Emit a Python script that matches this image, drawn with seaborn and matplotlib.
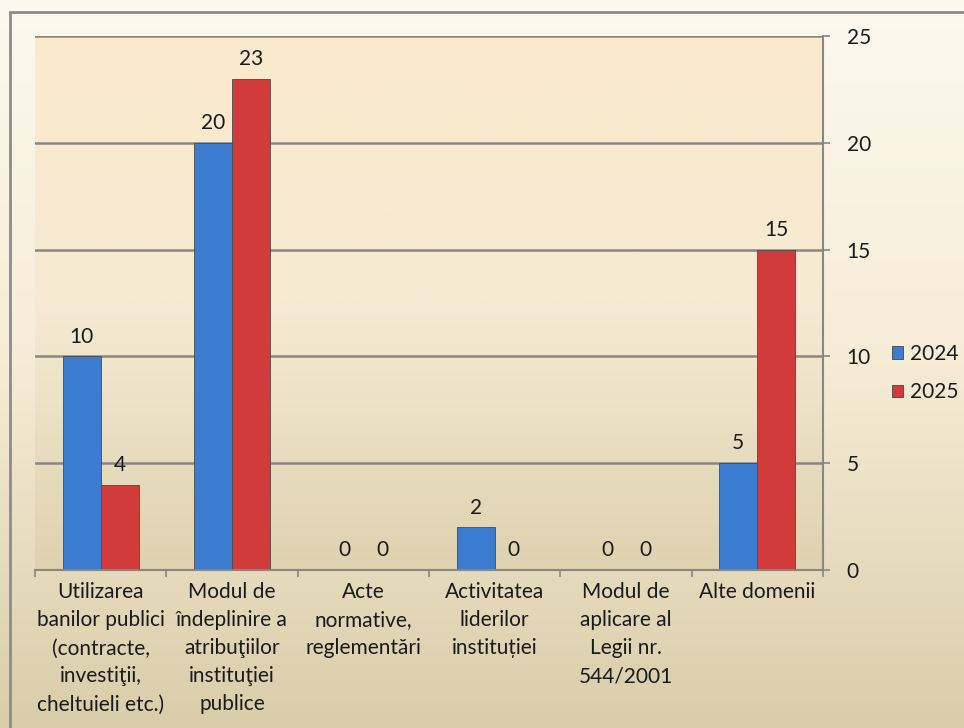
import numpy as np
import pandas as pd
import matplotlib
matplotlib.use("Agg")
import matplotlib.pyplot as plt
import seaborn as sns
from matplotlib.patches import Rectangle
from matplotlib.colors import LinearSegmentedColormap

# Data
categories = [
    "Utilizarea\nbanilor publici\n(contracte,\ninvestiţii,\ncheltuieli etc.)",
    "Modul de\nîndeplinire a\natribuţiilor\ninstituţiei\npublice",
    "Acte\nnormative,\nreglementări",
    "Activitatea\nliderilor\ninstituției",
    "Modul de\naplicare al\nLegii nr.\n544/2001",
    "Alte domenii",
]
values_2024 = [10, 20, 0, 2, 0, 5]
values_2025 = [4, 23, 0, 0, 0, 15]
years = ["2024", "2025"]

df = pd.DataFrame({
    "cat": categories * 2,
    "year": [years[0]] * 6 + [years[1]] * 6,
    "val": values_2024 + values_2025,
})

sns.set_style("white")
plt.rcParams["font.family"] = ["Lato", "DejaVu Sans"]
txt = "#1a1a1a"
grid_c = "#8a8780"
fs = 15

fig = plt.figure(figsize=(9.64, 7.28), dpi=100)

# figure background gradient
bg = fig.add_axes([0, 0, 1, 1], zorder=-10)
cm_fig = LinearSegmentedColormap.from_list("fig", ["#fdf9ef", "#f6ecd6", "#d9cda9"])
bg.imshow(np.linspace(0, 1, 256).reshape(-1, 1), cmap=cm_fig, aspect="auto",
          extent=[0, 1, 0, 1])
bg.set_axis_off()
fig.patches.append(Rectangle((10 / 964, -0.01), 1.0, 1 - 12 / 728 + 0.01,
                             transform=fig.transFigure, fill=False,
                             edgecolor="#8c8c8c", linewidth=2))

ax = fig.add_axes([35 / 964, 1 - 570 / 728, (823 - 35) / 964, (570 - 36) / 728])
ax.set_facecolor("none")

sns.barplot(data=df, x="cat", y="val", hue="year",
            palette=["#3b7bd0", "#d23b3b"], width=0.58, gap=0,
            edgecolor="#4a4a4a", linewidth=0.6, saturation=1,
            legend=False, ax=ax, zorder=2)

# plot-area gradient
cm_ax = LinearSegmentedColormap.from_list("ax", ["#fbeacc", "#f6ead4", "#ded2b0"])
ax.imshow(np.linspace(0, 1, 256).reshape(-1, 1), cmap=cm_ax, aspect="auto",
          extent=[-0.5, 5.5, 0, 25], zorder=0)

ax.set_xlim(-0.5, 5.5)
ax.set_ylim(0, 25)
ax.set_yticks(range(0, 26, 5))
ax.yaxis.tick_right()
ax.yaxis.set_label_position("right")
ax.set_xlabel("")
ax.set_ylabel("")

ax.set_axisbelow(True)
ax.grid(axis="y", color=grid_c, linewidth=1.8, zorder=0.5)
ax.grid(axis="x", visible=False)

for s in ["top", "left"]:
    ax.spines[s].set_visible(False)
for s in ["right", "bottom"]:
    ax.spines[s].set_color(grid_c)
    ax.spines[s].set_linewidth(1.5)

ax.tick_params(axis="y", right=True, length=5, color=grid_c, width=1.2,
               labelsize=fs, labelcolor=txt, pad=12)
ax.set_xticks(range(6))
ax.set_xticklabels(categories, fontsize=fs, color=txt, linespacing=1.5,
                   va="top")
ax.tick_params(axis="x", length=0, pad=9)
ax.set_xticks(np.arange(-0.5, 6, 1), minor=True)
ax.tick_params(axis="x", which="minor", bottom=True, length=5, color=grid_c,
               width=1.2)

for cont in ax.containers:
    ax.bar_label(cont, fmt="%d", padding=7, fontsize=fs, color=txt)

# legend
handles = [Rectangle((0, 0), 1, 1, facecolor=c, edgecolor="#444444", linewidth=0.6)
           for c in ["#3b7bd0", "#d23b3b"]]
fig.legend(handles, years, loc="center left", bbox_to_anchor=(892 / 964, 1 - 373 / 728),
           frameon=False, fontsize=fs, handlelength=0.55, handleheight=0.55,
           handletextpad=0.3, labelspacing=0.9, labelcolor=txt,
           borderpad=0, borderaxespad=0)

fig.savefig("out.png", dpi=100)
